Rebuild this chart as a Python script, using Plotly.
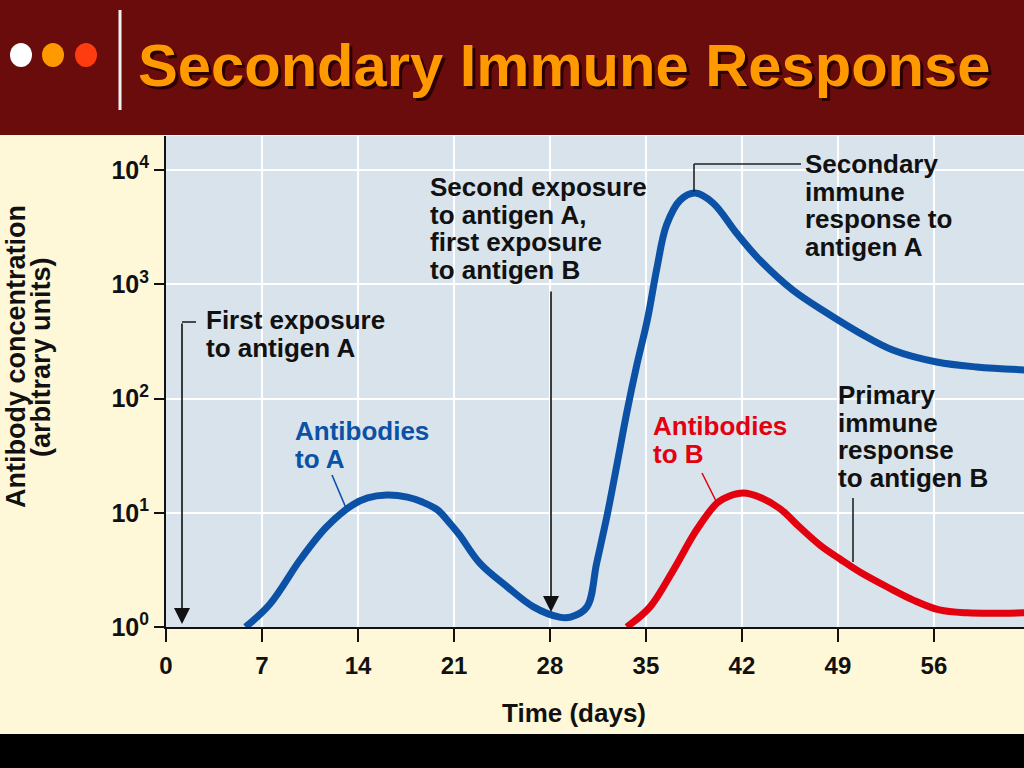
import plotly.graph_objects as go

# ---------------- data ----------------
days_a = [5.8, 7.6, 9.8, 11.7, 13.6, 14.7, 16.1, 17.6, 18.7, 19.8, 20.7, 21.4, 22.9, 24.9,
          26.8, 28.7, 29.5, 30.7, 31.4, 32.2, 32.9, 33.6, 34.3, 35.1, 35.8, 36.5, 37.5,
          38.6, 39.9, 41.6, 43.3, 45.7, 48.2, 50.6, 53.0, 56.2, 59.1, 62.6]
conc_a = [1.0, 1.6, 3.9, 7.5, 11.7, 13.5, 14.3, 13.7, 12.4, 10.6, 8.1, 6.4, 3.6, 2.24,
          1.5, 1.22, 1.22, 1.5, 3.6, 9.9, 27, 75, 189, 486, 1390, 3300, 5460,
          6290, 5140, 2810, 1630, 890, 560, 374, 266, 209, 189, 178]
days_b = [33.6, 35.3, 37.0, 38.7, 40.2, 41.1, 42.1, 43.3, 44.8, 46.2, 47.7, 49.2, 50.6,
          52.6, 54.5, 56.4, 58.4, 62.6]
conc_b = [1.0, 1.5, 3.15, 7.1, 12.2, 14.0, 14.9, 13.7, 10.8, 7.5, 5.2, 3.9, 3.03,
          2.24, 1.72, 1.41, 1.33, 1.33]

x_ticks = [0, 7, 14, 21, 28, 35, 42, 49, 56]
y_ticks = [1, 10, 100, 1000, 10000]
y_tick_text = ["10<sup>0</sup>", "10<sup>1</sup>", "10<sup>2</sup>", "10<sup>3</sup>", "10<sup>4</sup>"]

title_text = "Secondary Immune Response"
x_title = "Time (days)"
y_title_lines = ["Antibody concentration", "(arbitrary units)"]
label_second = ["Second exposure", "to antigen A,", "first exposure", "to antigen B"]
label_first = ["First exposure", "to antigen A"]
label_sec_resp = ["Secondary", "immune", "response to", "antigen A"]
label_prim_resp = ["Primary", "immune", "response", "to antigen B"]
label_ab_a = ["Antibodies", "to A"]
label_ab_b = ["Antibodies", "to B"]

# ---------------- layout geometry ----------------
W, H = 1024, 768
L, R, T, B = 166, 0, 136, 141
PW = W - L - R
PH = H - T - B

def px(x):
    return (x - L) / PW

def py(y):
    return (H - B - y) / PH

BLUE = "#0b51a6"
RED = "#e3000f"
FONT = "Liberation Sans"
LINE_H = 27.6

fig = go.Figure()
fig.add_trace(go.Scatter(x=days_a, y=conc_a, mode="lines",
                         line=dict(color=BLUE, width=7, shape="spline", smoothing=1.0),
                         hoverinfo="skip", showlegend=False))
fig.add_trace(go.Scatter(x=days_b, y=conc_b, mode="lines",
                         line=dict(color=RED, width=7, shape="spline", smoothing=1.0),
                         hoverinfo="skip", showlegend=False))

shapes = []
# header band
shapes.append(dict(type="rect", xref="paper", yref="paper", x0=px(0), x1=px(W), y0=py(135), y1=py(0),
                   fillcolor="#6a0c0c", line=dict(width=0), layer="above"))
# bottom black band
shapes.append(dict(type="rect", xref="paper", yref="paper", x0=px(0), x1=px(W), y0=py(768), y1=py(734),
                   fillcolor="#000000", line=dict(width=0), layer="above"))
# dots
for cx, col in [(21, "#ffffff"), (53, "#ff9900"), (86, "#ff3b10")]:
    shapes.append(dict(type="circle", xref="paper", yref="paper", x0=px(cx - 11), x1=px(cx + 11),
                       y0=py(55 + 12), y1=py(55 - 12), fillcolor=col, line=dict(width=0), layer="above"))
# white vertical separator
shapes.append(dict(type="line", xref="paper", yref="paper", x0=px(120), x1=px(120), y0=py(110), y1=py(10),
                   line=dict(color="#f2f2f2", width=3), layer="above"))

LEADER = dict(color="#222222", width=1.6)
for (x0, y0, x1, y1) in [(182, 322, 196, 322),
                         (694, 192, 694, 164), (694, 164, 801, 164),
                         (853, 498, 853, 562)]:
    shapes.append(dict(type="line", xref="paper", yref="paper", x0=px(x0), y0=py(y0), x1=px(x1), y1=py(y1),
                       line=LEADER))
shapes.append(dict(type="line", xref="paper", yref="paper", x0=px(332), y0=py(475), x1=px(346), y1=py(508),
                   line=dict(color=BLUE, width=1.6)))
shapes.append(dict(type="line", xref="paper", yref="paper", x0=px(702), y0=py(473), x1=px(717), y1=py(503),
                   line=dict(color=RED, width=1.6)))

annotations = []

def text_block(lines, x, y_first, color="#111111", size=26):
    for i, t in enumerate(lines):
        annotations.append(dict(text=t, xref="paper", yref="paper", x=px(x), y=py(y_first + i * LINE_H),
                                xanchor="left", yanchor="middle", showarrow=False,
                                font=dict(family=FONT, size=size, color=color, weight="bold")))

text_block(label_second, 428, 187)
text_block(label_first, 204, 320)
text_block(label_sec_resp, 803, 164)
text_block(label_prim_resp, 836, 395)
text_block(label_ab_a, 293, 431, color=BLUE)
text_block(label_ab_b, 651, 426, color=RED)

# arrows
for ax_x, tip_y, tail_y in [(182, 624, 322), (551, 612, 290)]:
    annotations.append(dict(text="", xref="paper", yref="paper", x=px(ax_x), y=py(tip_y),
                            ax=0, ay=-(tip_y - tail_y), showarrow=True, arrowhead=2, arrowsize=2.0,
                            arrowwidth=1.6, arrowcolor="#111111", standoff=0))

# axis titles
annotations.append(dict(text=x_title, xref="paper", yref="paper", x=px(574), y=py(713),
                        xanchor="center", yanchor="middle", showarrow=False,
                        font=dict(family=FONT, size=26, color="#111111", weight="bold")))
for i, t in enumerate(y_title_lines):
    annotations.append(dict(text=t, xref="paper", yref="paper", x=px(16 + i * 25), y=py(357),
                            xanchor="center", yanchor="middle", showarrow=False, textangle=-90,
                            font=dict(family=FONT, size=27, color="#111111", weight="bold")))

# slide title with shadow
for dx, col in [(3, "#2a0000"), (0, "#ff9900")]:
    annotations.append(dict(text=title_text, xref="paper", yref="paper", x=px(136 + dx), y=py(66 + dx),
                            xanchor="left", yanchor="middle", showarrow=False,
                            font=dict(family=FONT, size=59.7, color=col, weight="bold")))

fig.update_layout(
    width=W, height=H,
    margin=dict(l=L, r=R, t=T, b=B),
    paper_bgcolor="#fef8d8",
    plot_bgcolor="#d8e3ec",
    shapes=shapes,
    annotations=annotations,
    showlegend=False,
    font=dict(family=FONT, color="#111111"),
)
fig.update_xaxes(range=[0, 62.57], tickvals=x_ticks, ticks="outside", ticklen=13, tickwidth=2,
                 tickcolor="#111111", showline=True, linewidth=2, linecolor="#111111",
                 showgrid=True, gridcolor="#ffffff", gridwidth=2, zeroline=False,
                 tickfont=dict(family=FONT, size=24, color="#111111", weight="bold"),
                 ticklabelstandoff=3)
fig.update_yaxes(type="log", range=[0, 4.298], tickvals=y_ticks, ticktext=y_tick_text,
                 ticks="outside", ticklen=10, tickwidth=2, tickcolor="#111111",
                 showline=True, linewidth=2, linecolor="#111111",
                 showgrid=True, gridcolor="#ffffff", gridwidth=2, zeroline=False,
                 tickfont=dict(family=FONT, size=25, color="#111111", weight="bold"))

fig.write_html("out.html",
               config={"displayModeBar": False},
               post_script="document.body.style.margin='0';document.body.style.padding='0';"
                           "document.documentElement.style.overflow='hidden';")
